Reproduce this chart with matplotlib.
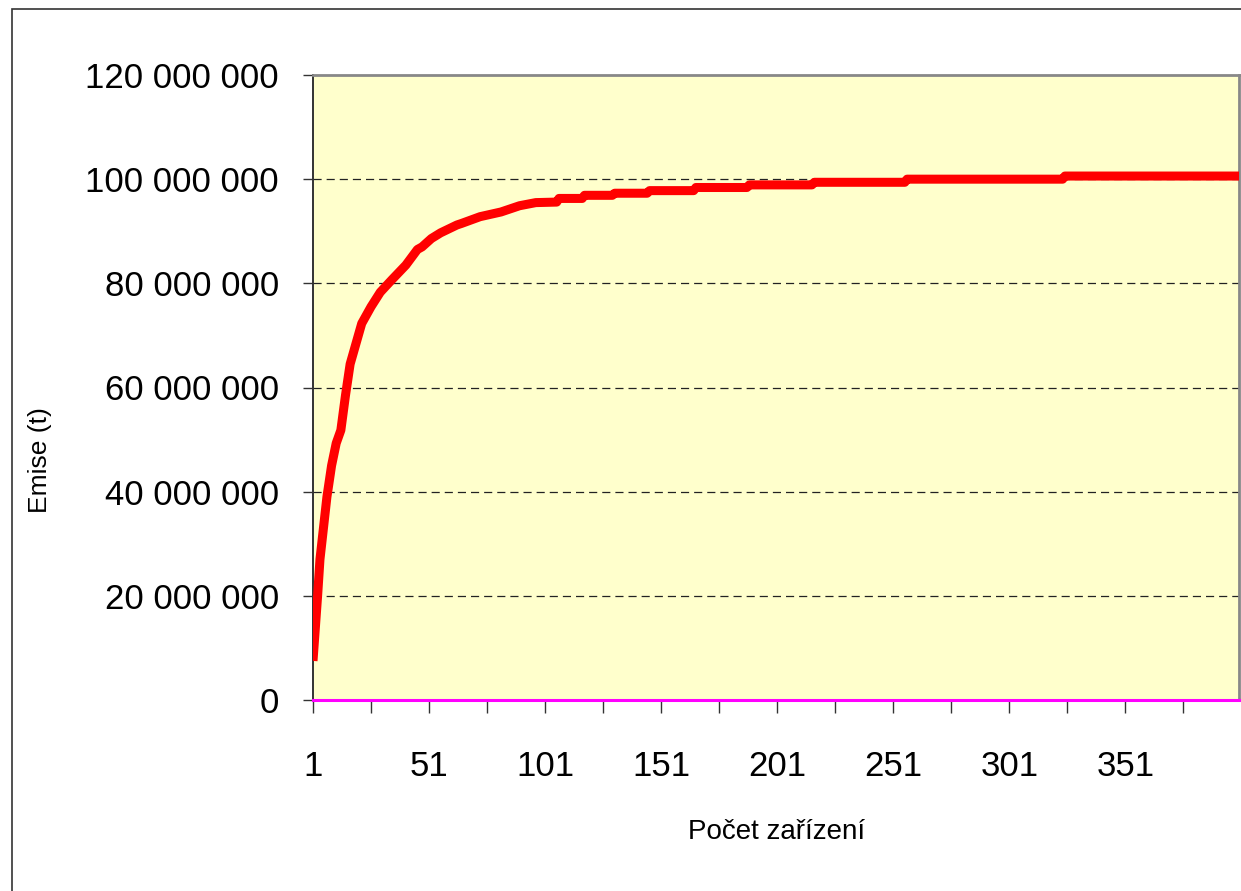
import matplotlib
matplotlib.use("Agg")
import matplotlib.pyplot as plt
from matplotlib.ticker import FixedLocator, FuncFormatter
from matplotlib.patches import Rectangle

# Cumulative emissions (category index -> tonnes)
categories = [1, 3, 4, 7, 9, 11, 13, 15, 17, 22, 26, 30, 35, 41, 46, 48, 52, 56,
              63, 65, 73, 82, 90, 97, 106, 107, 117, 118, 130, 131, 145, 146,
              165, 166, 188, 189, 216, 217, 256, 257, 324, 325, 400]
emissions_mt = [7.5, 20.1, 27.0, 39.0, 45.0, 49.3, 51.8, 58.5, 64.5, 72.3, 75.5,
                78.3, 80.7, 83.5, 86.5, 87.0, 88.6, 89.7, 91.2, 91.5, 92.8, 93.7,
                94.9, 95.5, 95.6, 96.3, 96.3, 96.9, 96.9, 97.3, 97.3, 97.8, 97.8,
                98.4, 98.4, 98.9, 98.9, 99.4, 99.4, 100.0, 100.0, 100.6, 100.6]
emissions = [v * 1e6 for v in emissions_mt]

x_tick_marks = list(range(1, 400, 25))
x_tick_labels = [1, 51, 101, 151, 201, 251, 301, 351]
y_ticks = [0, 20e6, 40e6, 60e6, 80e6, 100e6, 120e6]
x_label = "Počet zařízení"
y_label = "Emise (t)"

FONT = ['Liberation Sans', 'DejaVu Sans']
plt.rcParams['font.family'] = FONT

W, H = 1241, 891
fig = plt.figure(figsize=(W / 100, H / 100), dpi=100)
fig.patch.set_facecolor("white")

# outer chart border
fig.patches.append(Rectangle((12 / W, -0.05), 1.2, 1 - 9 / H + 0.05,
                             transform=fig.transFigure, fill=False,
                             edgecolor="#333333", linewidth=1.2))

ax = fig.add_axes([313 / W, 1 - 700 / H, (1239 - 313) / W, (700 - 75) / H])
ax.set_facecolor("#FFFFCC")

ax.plot(categories, emissions, color="#FF0000", linewidth=6.5,
        solid_capstyle="butt", solid_joinstyle="round", zorder=3)

ax.set_xlim(1, 400)
ax.set_ylim(0, 120e6)

# gridlines
for yv in y_ticks[1:-1]:
    ax.axhline(yv, color="#222222", linewidth=0.9, linestyle=(0, (6.5, 4)), zorder=1)

# spines
ax.spines["left"].set_color("#333333")
ax.spines["left"].set_linewidth(1.4)
ax.spines["top"].set_color("#888888")
ax.spines["top"].set_linewidth(2)
ax.spines["right"].set_color("#888888")
ax.spines["right"].set_linewidth(2)
ax.spines["bottom"].set_color("#FF00FF")
ax.spines["bottom"].set_linewidth(2.2)
ax.spines["bottom"].set_zorder(4)

# ticks
ax.yaxis.set_major_locator(FixedLocator(y_ticks))
ax.yaxis.set_major_formatter(FuncFormatter(lambda v, p: f"{v:,.0f}".replace(",", " ")))
ax.tick_params(axis="y", direction="out", length=7.5, width=1, color="#333333",
               pad=17, labelsize=25)

ax.xaxis.set_major_locator(FixedLocator(x_tick_marks))
ax.set_xticklabels([str(t) if t in x_tick_labels else "" for t in x_tick_marks])
ax.tick_params(axis="x", direction="out", length=9, width=1, color="#333333",
               pad=27, labelsize=25)

fig.text(40 / W, 1 - 460 / H, y_label, rotation=90, ha="center", va="center",
         fontsize=19)
fig.text(777 / W, 1 - 832 / H, x_label, ha="center", va="center", fontsize=20)

fig.savefig("out.png", dpi=100, facecolor="white")
